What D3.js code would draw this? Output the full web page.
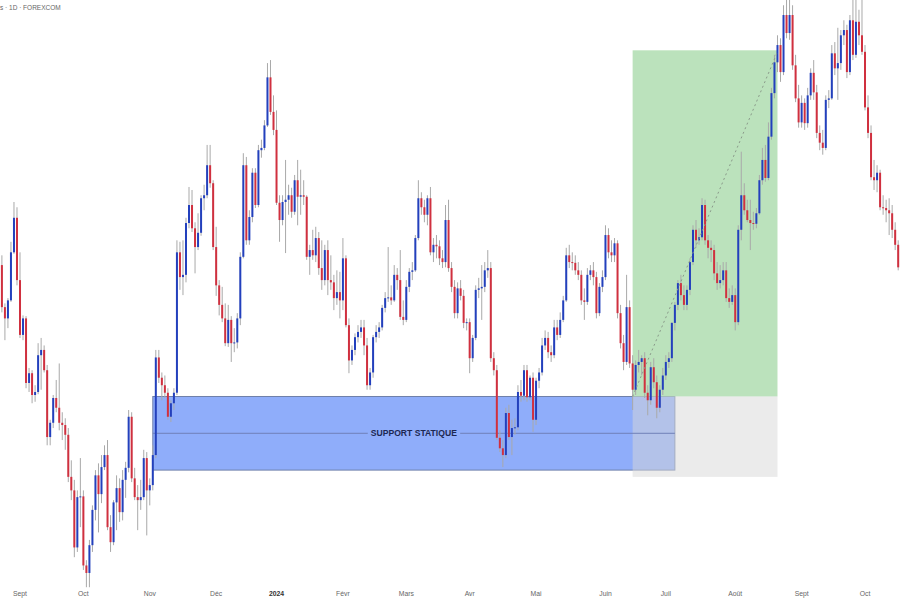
<!DOCTYPE html>
<html lang="fr">
<head>
<meta charset="utf-8">
<title>EUR/USD 1D</title>
<script src="https://cdnjs.cloudflare.com/ajax/libs/d3/7.8.5/d3.min.js"></script>
<style>
  html, body { margin: 0; padding: 0; background: #ffffff; }
  svg { display: block; font-family: "Liberation Sans", Arial, sans-serif; }
</style>
</head>
<body>
<svg id="chart" width="900" height="600"></svg>
<script>
// daily bars, one line per month (Aug 2023 -> Oct 2024)
var opens = [
  1.0870, 1.0814, 1.0799, 1.0823, 1.0887, 1.0933,
  1.0850, 1.0777, 1.0799, 1.0713, 1.0726, 1.0697, 1.0701, 1.0750, 1.0757, 1.0730, 1.0641, 1.0660, 1.0693, 1.0680, 1.0660, 1.0657, 1.0644, 1.0588, 1.0570, 1.0494, 1.0561,
  1.0562, 1.0470, 1.0460, 1.0497, 1.0544, 1.0590, 1.0565, 1.0601, 1.0617, 1.0521, 1.0501, 1.0554, 1.0573, 1.0541, 1.0584, 1.0600, 1.0668, 1.0586, 1.0561, 1.0557, 1.0561, 1.0613,
  1.0570, 1.0577, 1.0617, 1.0747, 1.0720, 1.0710, 1.0700, 1.0668, 1.0686, 1.0700, 1.0887, 1.0854, 1.0857, 1.0926, 1.0950, 1.0919, 1.0894, 1.0913, 1.0959, 1.0963, 1.1003, 1.0979,
  1.0894, 1.0843, 1.0817, 1.0799, 1.0766, 1.0797, 1.0766, 1.0767, 1.0799, 1.0881, 1.1003, 1.0903, 1.0934, 1.0993, 1.0950, 1.1023, 1.1026, 1.1056, 1.1120, 1.1074,
  1.1050, 1.0953, 1.0930, 1.0954, 1.0957, 1.0963, 1.0941, 1.0983, 1.0961, 1.0963, 1.0961, 1.0881, 1.0890, 1.0883, 1.0906, 1.0866, 1.0850, 1.0890, 1.0850, 1.0847, 1.0826, 1.0834,
  1.0823, 1.0879, 1.0790, 1.0743, 1.0757, 1.0774, 1.0781, 1.0787, 1.0763, 1.0710, 1.0727, 1.0774, 1.0781, 1.0787, 1.0813, 1.0826, 1.0827, 1.0823, 1.0857, 1.0850, 1.0801,
  1.0797, 1.0841, 1.0861, 1.0863, 1.0906, 1.0959, 1.0947, 1.0937, 1.0959, 1.0887, 1.0897, 1.0895, 1.0879, 1.0874, 1.0930, 1.0866, 1.0841, 1.0806, 1.0839, 1.0829, 1.0793,
  1.0794, 1.0746, 1.0773, 1.0837, 1.0839, 1.0841, 1.0863, 1.0866, 1.0746, 1.0730, 1.0640, 1.0626, 1.0617, 1.0673, 1.0641, 1.0653, 1.0654, 1.0701, 1.0696, 1.0730, 1.0694, 1.0720,
  1.0664, 1.0716, 1.0727, 1.0763, 1.0773, 1.0754, 1.0750, 1.0787, 1.0777, 1.0797, 1.0823, 1.0883, 1.0874, 1.0873, 1.0863, 1.0857, 1.0823, 1.0821, 1.0857, 1.0863, 1.0854, 1.0806, 1.0841,
  1.0854, 1.0910, 1.0887, 1.0883, 1.0899, 1.0806, 1.0766, 1.0741, 1.0814, 1.0739, 1.0704, 1.0737, 1.0741, 1.0746, 1.0700, 1.0690, 1.0734, 1.0714, 1.0680, 1.0704,
  1.0723, 1.0741, 1.0746, 1.0793, 1.0817, 1.0846, 1.0830, 1.0817, 1.0837, 1.0874, 1.0917, 1.0903, 1.0907, 1.0950, 1.0903, 1.0893, 1.0890, 1.0859, 1.0846, 1.0850, 1.0863, 1.0826, 1.0821,
  1.0830, 1.0794, 1.0917, 1.0963, 1.0943, 1.0930, 1.0926, 1.0925, 1.0939, 1.0983, 1.1010, 1.0986, 1.1041, 1.1099, 1.1140, 1.1163, 1.1127, 1.1203, 1.1179, 1.1203, 1.1136, 1.1092,
  1.1060, 1.1086, 1.1059, 1.1096, 1.1126, 1.1100, 1.1046, 1.1033, 1.1026, 1.1090, 1.1092, 1.1152, 1.1132, 1.1139, 1.1176, 1.1183, 1.1127, 1.1196, 1.1150, 1.1194, 1.1176,
  1.1154, 1.1080, 1.1046, 1.0987, 1.0983, 1.0993, 1.0947, 1.0946, 1.0943, 1.0939, 1.0917, 1.0897
];
var highs = [
  1.0883, 1.0819, 1.0826, 1.0901, 1.0954, 1.0947,
  1.0887, 1.0803, 1.0802, 1.0733, 1.0730, 1.0710, 1.0766, 1.0773, 1.0763, 1.0737, 1.0664, 1.0697, 1.0717, 1.0739, 1.0674, 1.0666, 1.0653, 1.0610, 1.0584, 1.0570, 1.0613,
  1.0570, 1.0477, 1.0504, 1.0550, 1.0597, 1.0606, 1.0617, 1.0630, 1.0637, 1.0537, 1.0557, 1.0590, 1.0586, 1.0597, 1.0608, 1.0677, 1.0674, 1.0600, 1.0577, 1.0584, 1.0624, 1.0621,
  1.0586, 1.0630, 1.0757, 1.0757, 1.0727, 1.0723, 1.0706, 1.0690, 1.0706, 1.0903, 1.0901, 1.0903, 1.0933, 1.0974, 1.0970, 1.0927, 1.0939, 1.0963, 1.0977, 1.1030, 1.1030, 1.0983,
  1.0921, 1.0850, 1.0841, 1.0819, 1.0817, 1.0802, 1.0786, 1.0806, 1.0887, 1.1019, 1.1014, 1.0943, 1.0999, 1.0999, 1.1030, 1.1037, 1.1063, 1.1139, 1.1143, 1.1096,
  1.1076, 1.0963, 1.0963, 1.1010, 1.0977, 1.0973, 1.0990, 1.1010, 1.0997, 1.0983, 1.0963, 1.0897, 1.0917, 1.0921, 1.0914, 1.0903, 1.0897, 1.0903, 1.0883, 1.0857, 1.0863, 1.0861,
  1.0906, 1.0883, 1.0799, 1.0763, 1.0779, 1.0790, 1.0797, 1.0797, 1.0773, 1.0733, 1.0777, 1.0790, 1.0794, 1.0817, 1.0834, 1.0894, 1.0843, 1.0870, 1.0866, 1.0890, 1.0823,
  1.0850, 1.0866, 1.0874, 1.0910, 1.0983, 1.0967, 1.0957, 1.0963, 1.0974, 1.0906, 1.0910, 1.0903, 1.0890, 1.0950, 1.0957, 1.0874, 1.0850, 1.0847, 1.0850, 1.0837, 1.0799,
  1.0799, 1.0777, 1.0843, 1.0853, 1.0870, 1.0874, 1.0890, 1.0874, 1.0754, 1.0737, 1.0650, 1.0637, 1.0680, 1.0684, 1.0664, 1.0666, 1.0710, 1.0717, 1.0737, 1.0737, 1.0723, 1.0727,
  1.0720, 1.0733, 1.0773, 1.0783, 1.0781, 1.0763, 1.0797, 1.0797, 1.0807, 1.0829, 1.0893, 1.0897, 1.0887, 1.0883, 1.0874, 1.0863, 1.0839, 1.0866, 1.0870, 1.0874, 1.0861, 1.0846, 1.0863,
  1.0923, 1.0919, 1.0903, 1.0906, 1.0903, 1.0817, 1.0777, 1.0857, 1.0823, 1.0750, 1.0743, 1.0757, 1.0750, 1.0754, 1.0710, 1.0741, 1.0746, 1.0723, 1.0710, 1.0733,
  1.0750, 1.0754, 1.0794, 1.0821, 1.0850, 1.0857, 1.0843, 1.0843, 1.0879, 1.0923, 1.0930, 1.0919, 1.0959, 1.0957, 1.0910, 1.0903, 1.0897, 1.0874, 1.0870, 1.0874, 1.0874, 1.0839, 1.0843,
  1.0839, 1.0923, 1.1021, 1.0979, 1.0957, 1.0957, 1.0941, 1.0946, 1.0990, 1.1026, 1.1030, 1.1060, 1.1106, 1.1150, 1.1176, 1.1172, 1.1216, 1.1230, 1.1227, 1.1216, 1.1150, 1.1110,
  1.1096, 1.1092, 1.1106, 1.1132, 1.1143, 1.1110, 1.1056, 1.1050, 1.1096, 1.1103, 1.1163, 1.1167, 1.1186, 1.1183, 1.1196, 1.1190, 1.1203, 1.1227, 1.1226, 1.1210, 1.1226,
  1.1163, 1.1096, 1.1056, 1.1010, 1.1003, 1.0997, 1.0963, 1.0957, 1.0959, 1.0950, 1.0927, 1.0903
];
var lows = [
  1.0807, 1.0770, 1.0786, 1.0821, 1.0885, 1.0843,
  1.0773, 1.0770, 1.0706, 1.0701, 1.0686, 1.0688, 1.0698, 1.0704, 1.0727, 1.0630, 1.0630, 1.0653, 1.0674, 1.0650, 1.0637, 1.0624, 1.0581, 1.0557, 1.0481, 1.0488, 1.0521,
  1.0464, 1.0441, 1.0441, 1.0488, 1.0530, 1.0514, 1.0553, 1.0597, 1.0517, 1.0488, 1.0497, 1.0517, 1.0528, 1.0530, 1.0560, 1.0594, 1.0581, 1.0557, 1.0517, 1.0544, 1.0557, 1.0510,
  1.0550, 1.0570, 1.0613, 1.0713, 1.0690, 1.0693, 1.0664, 1.0661, 1.0677, 1.0697, 1.0837, 1.0830, 1.0847, 1.0919, 1.0914, 1.0859, 1.0890, 1.0909, 1.0943, 1.0959, 1.0973, 1.0890,
  1.0829, 1.0803, 1.0794, 1.0762, 1.0761, 1.0741, 1.0754, 1.0759, 1.0790, 1.0879, 1.0897, 1.0897, 1.0927, 1.0946, 1.0947, 1.1013, 1.1023, 1.1054, 1.1070, 1.1043,
  1.0950, 1.0901, 1.0923, 1.0886, 1.0937, 1.0933, 1.0937, 1.0923, 1.0937, 1.0950, 1.0877, 1.0857, 1.0877, 1.0874, 1.0857, 1.0837, 1.0843, 1.0830, 1.0837, 1.0810, 1.0817, 1.0799,
  1.0810, 1.0787, 1.0726, 1.0737, 1.0750, 1.0767, 1.0773, 1.0750, 1.0704, 1.0704, 1.0720, 1.0767, 1.0773, 1.0783, 1.0807, 1.0821, 1.0817, 1.0821, 1.0837, 1.0797, 1.0790,
  1.0794, 1.0834, 1.0850, 1.0861, 1.0903, 1.0937, 1.0927, 1.0923, 1.0883, 1.0874, 1.0879, 1.0870, 1.0866, 1.0867, 1.0861, 1.0834, 1.0799, 1.0799, 1.0823, 1.0786, 1.0783,
  1.0726, 1.0741, 1.0770, 1.0826, 1.0797, 1.0834, 1.0853, 1.0741, 1.0723, 1.0637, 1.0621, 1.0601, 1.0613, 1.0637, 1.0617, 1.0644, 1.0650, 1.0688, 1.0690, 1.0688, 1.0690, 1.0648,
  1.0657, 1.0706, 1.0723, 1.0757, 1.0746, 1.0741, 1.0746, 1.0770, 1.0773, 1.0794, 1.0821, 1.0866, 1.0863, 1.0857, 1.0850, 1.0817, 1.0797, 1.0817, 1.0850, 1.0843, 1.0799, 1.0802, 1.0834,
  1.0850, 1.0879, 1.0874, 1.0874, 1.0799, 1.0759, 1.0730, 1.0737, 1.0733, 1.0677, 1.0697, 1.0727, 1.0723, 1.0693, 1.0670, 1.0684, 1.0706, 1.0666, 1.0674, 1.0697,
  1.0717, 1.0733, 1.0741, 1.0783, 1.0810, 1.0823, 1.0810, 1.0810, 1.0830, 1.0870, 1.0893, 1.0897, 1.0903, 1.0897, 1.0879, 1.0874, 1.0850, 1.0837, 1.0839, 1.0843, 1.0821, 1.0813, 1.0817,
  1.0783, 1.0790, 1.0903, 1.0937, 1.0927, 1.0890, 1.0917, 1.0919, 1.0937, 1.0977, 1.0981, 1.0983, 1.1037, 1.1092, 1.1127, 1.1114, 1.1123, 1.1172, 1.1170, 1.1130, 1.1087, 1.1053,
  1.1053, 1.1050, 1.1053, 1.1090, 1.1090, 1.1039, 1.1023, 1.1017, 1.1023, 1.1079, 1.1090, 1.1123, 1.1090, 1.1130, 1.1163, 1.1119, 1.1123, 1.1143, 1.1146, 1.1163, 1.1150,
  1.1076, 1.1039, 1.0983, 1.0970, 1.0967, 1.0943, 1.0937, 1.0927, 1.0910, 1.0906, 1.0890, 1.0863
];
var closes = [
  1.0814, 1.0799, 1.0823, 1.0887, 1.0933, 1.0850,
  1.0777, 1.0799, 1.0713, 1.0726, 1.0697, 1.0701, 1.0750, 1.0757, 1.0730, 1.0641, 1.0660, 1.0693, 1.0680, 1.0660, 1.0657, 1.0644, 1.0588, 1.0570, 1.0494, 1.0561, 1.0562,
  1.0470, 1.0460, 1.0497, 1.0544, 1.0590, 1.0565, 1.0601, 1.0617, 1.0521, 1.0501, 1.0554, 1.0573, 1.0541, 1.0584, 1.0600, 1.0668, 1.0586, 1.0561, 1.0557, 1.0561, 1.0613, 1.0570,
  1.0577, 1.0617, 1.0747, 1.0720, 1.0710, 1.0700, 1.0668, 1.0686, 1.0700, 1.0887, 1.0854, 1.0857, 1.0926, 1.0950, 1.0919, 1.0894, 1.0913, 1.0959, 1.0963, 1.1003, 1.0979, 1.0894,
  1.0843, 1.0817, 1.0799, 1.0766, 1.0797, 1.0766, 1.0767, 1.0799, 1.0881, 1.1003, 1.0903, 1.0934, 1.0993, 1.0950, 1.1023, 1.1026, 1.1056, 1.1120, 1.1074, 1.1050,
  1.0953, 1.0930, 1.0954, 1.0957, 1.0963, 1.0941, 1.0983, 1.0961, 1.0963, 1.0961, 1.0881, 1.0890, 1.0883, 1.0906, 1.0866, 1.0850, 1.0890, 1.0850, 1.0847, 1.0826, 1.0834, 1.0823,
  1.0879, 1.0790, 1.0743, 1.0757, 1.0774, 1.0781, 1.0787, 1.0763, 1.0710, 1.0727, 1.0774, 1.0781, 1.0787, 1.0813, 1.0826, 1.0827, 1.0823, 1.0857, 1.0850, 1.0801, 1.0797,
  1.0841, 1.0861, 1.0863, 1.0906, 1.0959, 1.0947, 1.0937, 1.0959, 1.0887, 1.0897, 1.0895, 1.0879, 1.0874, 1.0930, 1.0866, 1.0841, 1.0806, 1.0839, 1.0829, 1.0793, 1.0794,
  1.0746, 1.0773, 1.0837, 1.0839, 1.0841, 1.0863, 1.0866, 1.0746, 1.0730, 1.0640, 1.0626, 1.0617, 1.0673, 1.0641, 1.0653, 1.0654, 1.0701, 1.0696, 1.0730, 1.0694, 1.0720, 1.0664,
  1.0716, 1.0727, 1.0763, 1.0773, 1.0754, 1.0750, 1.0787, 1.0777, 1.0797, 1.0823, 1.0883, 1.0874, 1.0873, 1.0863, 1.0857, 1.0823, 1.0821, 1.0857, 1.0863, 1.0854, 1.0806, 1.0841, 1.0854,
  1.0910, 1.0887, 1.0883, 1.0899, 1.0806, 1.0766, 1.0741, 1.0814, 1.0739, 1.0704, 1.0737, 1.0741, 1.0746, 1.0700, 1.0690, 1.0734, 1.0714, 1.0680, 1.0704, 1.0723,
  1.0741, 1.0746, 1.0793, 1.0817, 1.0846, 1.0830, 1.0817, 1.0837, 1.0874, 1.0917, 1.0903, 1.0907, 1.0950, 1.0903, 1.0893, 1.0890, 1.0859, 1.0846, 1.0850, 1.0863, 1.0826, 1.0821, 1.0830,
  1.0794, 1.0917, 1.0963, 1.0943, 1.0930, 1.0926, 1.0925, 1.0939, 1.0983, 1.1010, 1.0986, 1.1041, 1.1099, 1.1140, 1.1163, 1.1127, 1.1203, 1.1179, 1.1203, 1.1136, 1.1092, 1.1060,
  1.1086, 1.1059, 1.1096, 1.1126, 1.1100, 1.1046, 1.1033, 1.1026, 1.1090, 1.1092, 1.1152, 1.1132, 1.1139, 1.1176, 1.1183, 1.1127, 1.1196, 1.1150, 1.1194, 1.1176, 1.1154,
  1.1080, 1.1046, 1.0987, 1.0983, 1.0993, 1.0947, 1.0946, 1.0943, 1.0939, 1.0917, 1.0897, 1.0867
];

var firstDay = "2023-08-24";
var holidays = ["2023-12-25", "2024-01-01"];

var monthLabels = ["Sept", "Oct", "Nov", "Déc", "2024", "Févr", "Mars", "Avr", "Mai", "Juin", "Juil", "Août", "Sept", "Oct"];
var monthStarts = ["2023-09-01", "2023-10-02", "2023-11-01", "2023-12-01", "2024-01-02", "2024-02-01", "2024-03-01",
                   "2024-04-01", "2024-05-01", "2024-06-03", "2024-07-01", "2024-08-01", "2024-09-02", "2024-10-01"];

// support zone and long position drawn on the chart
var zoneDates = ["2023-11-02", "2024-07-04"];
var zonePrices = [1.0695, 1.0597];
var zoneLabel = "SUPPORT STATIQUE";
var positionDates = ["2024-06-14", "2024-08-21"];
var positionPrices = [1.0695, 1.1156, 1.0588]; // entry, target, stop
var pathEndPrice = 1.1154;

var title = "s · 1D · FOREXCOM";

var width = 900, height = 600;
var svg = d3.select("#chart");

var parse = d3.utcParse("%Y-%m-%d"), fmt = d3.utcFormat("%Y-%m-%d");
var dates = [];
var day = parse(firstDay);
while (dates.length < closes.length) {
    var wd = day.getUTCDay();
    if (wd !== 0 && wd !== 6 && holidays.indexOf(fmt(day)) < 0) dates.push(fmt(day));
    day = d3.utcDay.offset(day, 1);
}

var bars = dates.map(function (d, i) {
    return { date: d, o: opens[i], h: highs[i], l: lows[i], c: closes[i] };
});

var x = d3.scalePoint().domain(dates).range([1.9, 898.2]);
var y = d3.scaleLinear().domain([1.0424, 1.1223]).range([height, 0]);

var blue = "#2340bd", red = "#d0303f", wick = "#a9a9a9";

// zone + position boxes
var zx0 = x(zoneDates[0]), zx1 = x(zoneDates[1]);
svg.append("rect")
    .attr("x", zx0).attr("y", y(zonePrices[0]))
    .attr("width", zx1 - zx0).attr("height", y(zonePrices[1]) - y(zonePrices[0]))
    .attr("fill", "#8fadfa").attr("stroke", "#6f80aa").attr("stroke-width", 1);

var px0 = x(positionDates[0]), px1 = x(positionDates[1]);
svg.append("rect")
    .attr("x", px0).attr("y", y(positionPrices[1]))
    .attr("width", px1 - px0).attr("height", y(positionPrices[0]) - y(positionPrices[1]))
    .attr("fill", "#bbe2bc");
svg.append("rect")
    .attr("x", px0).attr("y", y(positionPrices[0]))
    .attr("width", px1 - px0).attr("height", y(positionPrices[2]) - y(positionPrices[0]))
    .attr("fill", "rgb(216,216,216)").attr("fill-opacity", 0.5);

// middle line of the zone, broken around the label
var zmid = (y(zonePrices[0]) + y(zonePrices[1])) / 2;
var label = svg.append("text")
    .attr("x", (zx0 + zx1) / 2).attr("y", zmid)
    .attr("text-anchor", "middle").attr("dominant-baseline", "central")
    .attr("font-size", "8.6px").attr("font-weight", "bold").attr("fill", "#1d2852")
    .text(zoneLabel);
var lb = label.node().getBBox();
svg.insert("line", "text")
    .attr("x1", zx0).attr("x2", lb.x - 3).attr("y1", zmid).attr("y2", zmid)
    .attr("stroke", "#6f80b8").attr("stroke-width", 1);
svg.insert("line", "text")
    .attr("x1", lb.x + lb.width + 3).attr("x2", zx1).attr("y1", zmid).attr("y2", zmid)
    .attr("stroke", "#6f80b8").attr("stroke-width", 1);

// candles
var g = svg.append("g");
g.selectAll("line.wick")
    .data(bars).enter().append("line")
    .attr("class", "wick")
    .attr("x1", function (d) { return x(d.date); })
    .attr("x2", function (d) { return x(d.date); })
    .attr("y1", function (d) { return y(d.h); })
    .attr("y2", function (d) { return y(d.l); })
    .attr("stroke", wick).attr("stroke-width", 1);

g.selectAll("rect.body")
    .data(bars).enter().append("rect")
    .attr("class", "body")
    .attr("x", function (d) { return x(d.date) - 1; })
    .attr("width", 2)
    .attr("y", function (d) { return y(Math.max(d.o, d.c)); })
    .attr("height", function (d) { return Math.max(1, Math.abs(y(d.o) - y(d.c))); })
    .attr("fill", function (d) { return d.c >= d.o ? blue : red; });

// dotted path of the position
svg.append("line")
    .attr("x1", px0).attr("y1", y(positionPrices[0]))
    .attr("x2", px1).attr("y2", y(pathEndPrice))
    .attr("stroke", "#8a9a8a").attr("stroke-width", 1).attr("stroke-dasharray", "2,3");

// month labels
svg.selectAll("text.month")
    .data(monthLabels).enter().append("text")
    .attr("class", "month")
    .attr("x", function (d, i) { return x(monthStarts[i]); })
    .attr("y", 593)
    .attr("text-anchor", "middle").attr("dominant-baseline", "central")
    .attr("font-size", "6.8px")
    .attr("font-weight", function (d) { return d === "2024" ? "bold" : "normal"; })
    .attr("fill", function (d) { return d === "2024" ? "#333" : "#666"; })
    .text(function (d) { return d; });

svg.append("text")
    .attr("x", 0).attr("y", 7)
    .attr("dominant-baseline", "central")
    .attr("font-size", "6.5px").attr("fill", "#666")
    .text(title);
</script>
</body>
</html>
